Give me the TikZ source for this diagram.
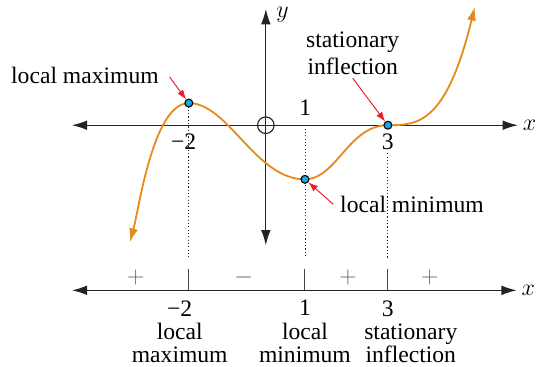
\documentclass[tikz,border=0pt]{standalone}
\usepackage{fontspec}
\setmainfont{LiberationSerif}[Extension=.ttf, UprightFont=*-Regular, BoldFont=*-Bold,
  ItalicFont=*-Italic, BoldItalicFont=*-BoldItalic]
\usetikzlibrary{arrows.meta,positioning,calc}
\definecolor{CurvaLaranja}{RGB}{230,138,28}
\definecolor{PontoAzul}{RGB}{20,170,230}
\definecolor{SetaVermelha}{RGB}{235,30,45}
\definecolor{EixoEscuro}{RGB}{35,35,35}
\definecolor{SinalCinza}{RGB}{100,100,100}
\tikzset{
  eixo/.style={{Latex[length=11pt,width=7pt]}-{Latex[length=11pt,width=7pt]},
                line width=0.9pt, EixoEscuro},
  curva/.style={{Latex[length=10pt,width=6.5pt]}-{Latex[length=10pt,width=6.5pt]},
                line width=1.3pt, CurvaLaranja},
  ponto/.style={circle, draw=black, fill=PontoAzul, line width=0.8pt,
                inner sep=0pt, minimum size=2mm},
  seta/.style={-{Latex[length=7pt,width=5pt]}, line width=0.7pt, SetaVermelha},
  guia/.style={line width=0.6pt, dash pattern=on 0.8pt off 1.6pt, EixoEscuro},
  marca/.style={line width=0.8pt, EixoEscuro!85},
  rotulo/.style={font=\fontsize{17}{20}\selectfont, align=center, inner sep=2pt},
  rotulobaixo/.style={font=\fontsize{17}{16.6}\selectfont, align=center,
                inner sep=0.5pt, anchor=north},
  sinal/.style={font=\fontsize{17}{20}\selectfont, text=SinalCinza, inner sep=0pt},
}

\begin{document}
\begin{tikzpicture}
  \useasboundingbox (-6.73,-6.10) rectangle (6.89,3.17);

  % Eixos do grafico
  \coordinate (xEsq) at (-4.91,0);
  \coordinate (xDir) at (6.38,0);
  \coordinate (yBaixo) at (0,-3.04);
  \coordinate (yCima) at (0,2.94);
  \draw[eixo] (xEsq) -- (xDir);
  \draw[eixo] (yBaixo) -- (yCima);
  \node[circle, draw=EixoEscuro, line width=0.8pt, minimum size=4.2mm, inner sep=0pt]
    (origem) at (0,0) {};
  \node[rotulo, right=0.5mm of xDir] (rotX) {$x$};
  \node[rotulo] (rotY) at (0.42,2.80) {$y$};

  % Pontos estacionarios
  \coordinate (cMax) at (-1.95,0.56);
  \coordinate (cMin) at (0.99,-1.37);
  \coordinate (cInf) at (3.09,0);
  \coordinate (cIni) at (-3.44,-2.96);
  \coordinate (cFim) at (5.29,3.00);

  % Rotulos dos valores de x
  \node[rotulo] (rotMenosDois) at (-2.08,-0.42) {−2};
  \node[rotulo] (rotUm) at (1.00,0.44) {1};
  \node[rotulo] (rotTres) at (3.09,-0.43) {3};

  % Linhas guia pontilhadas
  \coordinate (guiaFim) at (0,-3.37);
  \draw[guia] (cMax) -- (cMax |- guiaFim);
  \draw[guia] (cMin |- xEsq) -- (cMin |- guiaFim);
  \draw[guia] (rotTres.south) -- (rotTres.south |- guiaFim);

  % Curva
  \draw[curva] (cIni) .. controls (-3.22,-2.15) and (-2.85,0.56) .. (cMax)
    .. controls (-0.95,0.56) and (-0.26,-1.37) .. (cMin)
    .. controls (1.79,-1.37) and (2.09,0) .. (cInf)
    .. controls (3.82,0) and (4.56,0) .. (cFim);
  \node[ponto] (pontoMax) at (cMax) {};
  \node[ponto] (pontoMin) at (cMin) {};
  \node[ponto] (pontoInf) at (cInf) {};

  % Rotulos com setas
  \node[rotulo] (rotMax) at (-4.58,1.27) {local maximum};
  \node[rotulo] (rotInf) at (2.20,1.82) {stationary\\inflection};
  \node[rotulo] (rotMin) at (3.70,-2.00) {local minimum};
  \draw[seta] ([xshift=2mm,yshift=-0.5mm]rotMax.east) -- (pontoMax);
  \draw[seta] (rotInf.south) -- (pontoInf);
  \draw[seta] ([xshift=-1mm]rotMin.west) -- (pontoMin);

  % Quadro de sinais
  \coordinate (xEsqB) at (-4.91,-4.18);
  \coordinate (xDirB) at (6.35,-4.18);
  \coordinate (marcaTopo) at (0,-3.65);
  \draw[eixo] (xEsqB) -- (xDirB);
  \node[rotulo, right=0.5mm of xDirB] (rotXB) {$x$};
  \draw[marca] (cMax |- marcaTopo) -- (cMax |- xEsqB);
  \draw[marca] (cMin |- marcaTopo) -- (cMin |- xEsqB);
  \draw[marca] (cInf |- marcaTopo) -- (cInf |- xEsqB);
  \node[sinal] (sinalA) at (-3.29,-3.85) {$+$};
  \node[sinal] (sinalB) at (-0.56,-3.85) {$-$};
  \node[sinal] (sinalC) at (2.08,-3.85) {$+$};
  \node[sinal] (sinalD) at (4.15,-3.85) {$+$};

  % Classificacao abaixo do eixo
  \node[rotulobaixo] (infMax) at (-2.18,-4.41) {−2\\local\\maximum};
  \node[rotulobaixo] (infMin) at (0.99,-4.41) {1\\local\\minimum};
  \node[rotulobaixo] (infInf) at (3.67,-4.41) {3\hspace*{33pt}\\stationary\\inflection};
\end{tikzpicture}
\end{document}
